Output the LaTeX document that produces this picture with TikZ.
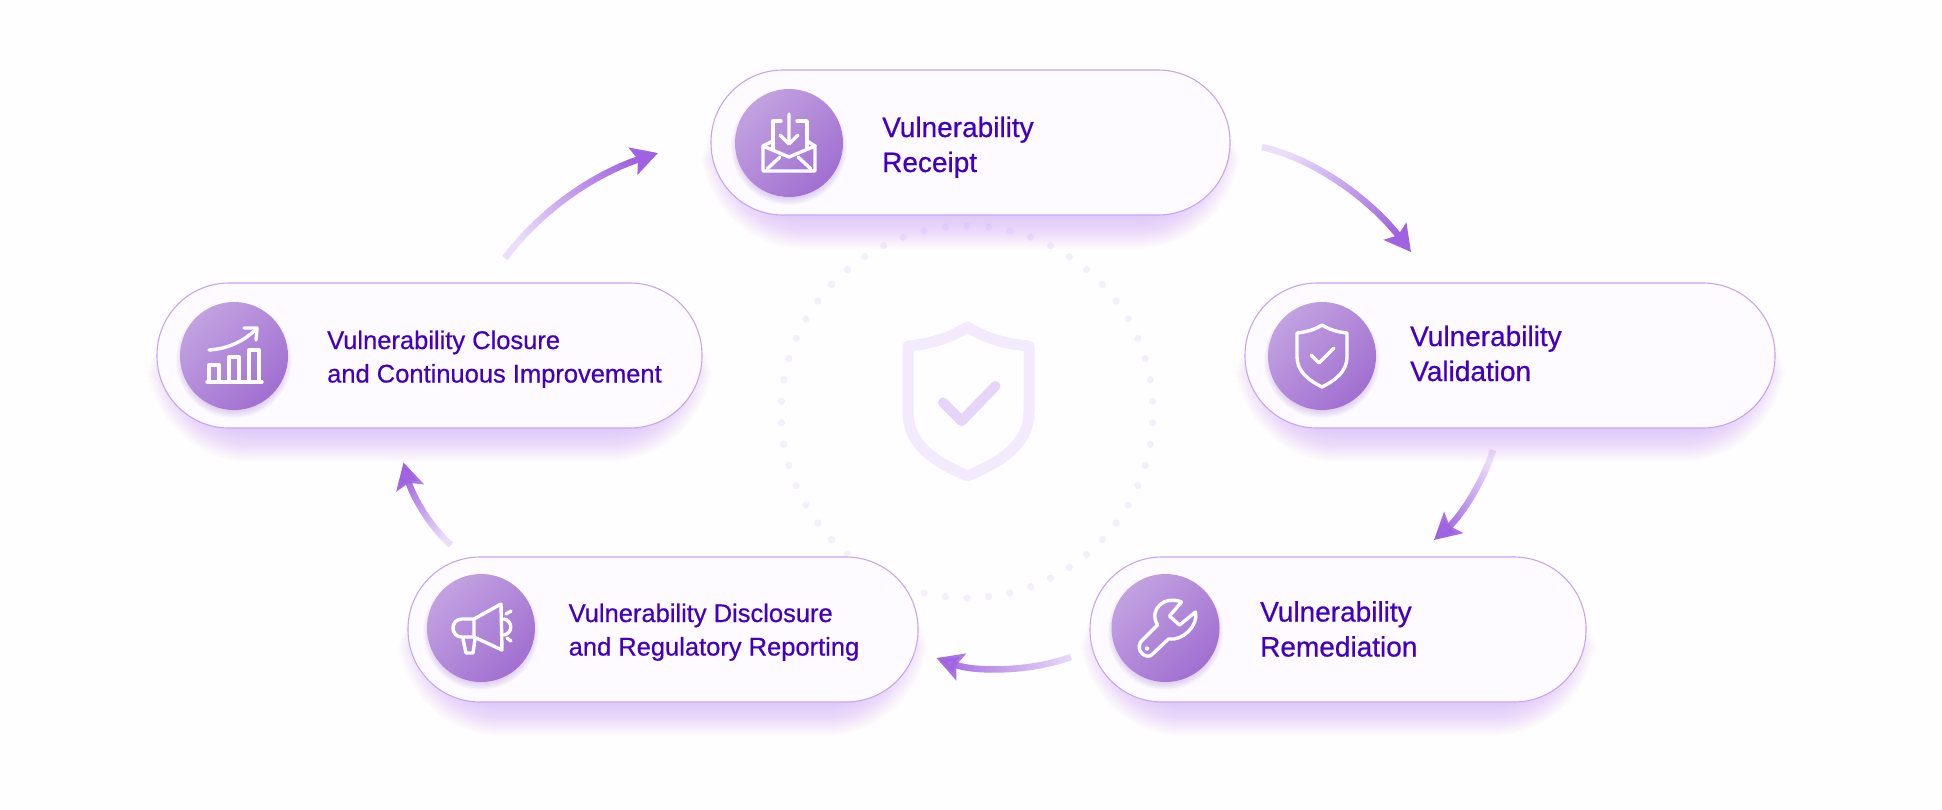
\documentclass[tikz,border=0pt]{standalone}
\usepackage{fontspec}
\setmainfont{Liberation Sans}[FakeBold=0.6]
\usetikzlibrary{arrows.meta,fadings}
\definecolor{paperwhite}{HTML}{FEFDFF}
\definecolor{pillfill}{HTML}{FDFBFF}
\definecolor{pillline}{HTML}{C6A6F0}
\definecolor{glowpurple}{HTML}{B285FA}
\definecolor{balldark}{HTML}{9C68CE}
\definecolor{inkpurple}{HTML}{4300BF}
\definecolor{flowpurple}{HTML}{9F62E0}
\definecolor{dotpale}{HTML}{F5EEFD}
\definecolor{shieldpale}{HTML}{F3EAFD}
\definecolor{checkpale}{HTML}{E6D5F9}
\tikzfading[name=tailfade,left color=transparent!80,middle color=transparent!10,right color=transparent!0]
\tikzset{
  pillbox/.style={draw=pillline,line width=1.1pt,fill=pillfill,rounded corners=72pt,
    minimum height=145pt,inner sep=0pt,outer sep=0pt},
  iconball/.style={circle,minimum size=108pt,inner sep=0pt,shading=axis,
    top color=balldark!62!white,middle color=balldark!85!white,bottom color=balldark!95!white,shading angle=45},
  steplabel/.style={anchor=base west,align=left,inner sep=0pt,text=inkpurple,font=\fontsize{28}{35}\selectfont},
  longlabel/.style={steplabel,font=\fontsize{25.5}{33.5}\selectfont},
  flowarrow/.style={draw=flowpurple,line width=6.5pt,
    -{Stealth[length=26pt,width=28pt,inset=5pt]},path fading=tailfade},
  iconline/.style={draw=white,line width=3.4pt,line cap=round,line join=round}
}
\begin{document}
\begin{tikzpicture}[x=1pt,y=-1pt]
  \useasboundingbox (0,0) rectangle (1942,809);
  \fill[paperwhite] (0,0) rectangle (1942,809);

  % dotted ring and big shield
  \begin{scope}[shift={(967,412)}]
    \foreach \i in {0,...,53}{\fill[dotpale] ({90+\i*20/3}:186) circle (3.6);}
  \end{scope}
  \draw[shieldpale,line width=11pt,line join=round]
    (967.5,327) .. controls (950,338) and (930,344) .. (908,346) -- (908,412)
    .. controls (908,445) and (935,462) .. (967.5,476)
    .. controls (1000,462) and (1029,445) .. (1029,412) -- (1029,346)
    .. controls (1005,344) and (985,338) .. cycle;
  \draw[checkpale,line width=10pt,line cap=round,line join=round]
    (943,402.5) -- (961.5,421) -- (995.5,386);

  % pills, shadows first
  \foreach \pname/\xl/\xr/\yt in {receipt/711/1230/70,closure/157/702/283,validation/1245/1775/283,
      disclosure/408/918/557,remediation/1090/1586/557}{
    \foreach \s in {1,...,32}{
      \fill[glowpurple,opacity=.01,rounded corners=72+\s] (\xl+22-\s,\yt+34-\s) rectangle (\xr-22+\s,\yt+147+\s);}
    \pgfmathsetmacro{\w}{\xr-\xl}
    \node[pillbox,minimum width=\w pt] (\pname) at ({(\xl+\xr)/2},\yt+72.5) {};
  }

  % icon balls
  \foreach \bname/\bx/\by in {receiptball/789/143,closureball/234/356,validationball/1322/356,
      disclosureball/481/628,remediationball/1165.5/628}{
    \foreach \s in {1,...,8}{\fill[balldark,opacity=.04] (\bx,\by+4) circle (50+\s);}
    \node[iconball] (\bname) at (\bx,\by) {};
  }

  \node[steplabel] (receipttext) at (882,172) {Vulnerability\\Receipt};
  \node[longlabel] (closuretext) at (327,382.5) {Vulnerability Closure\\and Continuous Improvement};
  \node[steplabel] (validationtext) at (1410,381) {Vulnerability\\Validation};
  \node[longlabel] (disclosuretext) at (568.5,655.5) {Vulnerability Disclosure\\and Regulatory Reporting};
  \node[steplabel] (remediationtext) at (1260,656.5) {Vulnerability\\Remediation};

  % icons
  \begin{scope}[shift={(receiptball.center)}]
    \draw[iconline] (-16,-2) -- (-26,3) -- (-26,28) -- (26,28) -- (26,3) -- (18,-2);
    \draw[iconline] (-16,6) -- (-16,-22) -- (-8,-22) (8,-22) -- (18,-22) -- (18,6);
    \draw[iconline] (0,-29) -- (0,0) (-9,-8) -- (0,1) -- (9,-8);
    \draw[iconline] (-26,3) -- (0,14) -- (26,3) (-22,26) -- (-9,14) (22,26) -- (9,14);
  \end{scope}
  \begin{scope}[shift={(closureball.center)}]
    \draw[iconline] (-27,26) -- (28,26);
    \draw[iconline] (-25,26) -- (-25,9) -- (-15,9) -- (-15,26);
    \draw[iconline] (-5,26) -- (-5,1) -- (5,1) -- (5,26);
    \draw[iconline] (15,26) -- (15,-6) -- (25,-6) -- (25,26);
    \draw[iconline] (-25,-6) .. controls (-8,-7) and (10,-14) .. (23,-28);
    \draw[iconline] (10,-28) -- (23,-28) -- (22,-16);
  \end{scope}
  \begin{scope}[shift={(validationball.center)}]
    \draw[iconline] (0,-31) .. controls (-8,-26) and (-16,-24) .. (-25,-23) -- (-25,1)
      .. controls (-25,15) and (-14,24) .. (0,31)
      .. controls (14,24) and (25,15) .. (25,1) -- (25,-23)
      .. controls (16,-24) and (8,-26) .. cycle;
    \draw[iconline] (-11,-1) -- (-3,7) -- (12,-8);
  \end{scope}
  \begin{scope}[shift={(disclosureball.center)}]
    \draw[iconline] (-7,-9) -- (20,-24) -- (21,22) -- (-7,9) -- cycle;
    \draw[iconline] (-7,-9) -- (-19,-9) .. controls (-31,-9) and (-31,9) .. (-19,9) -- (-7,9);
    \draw[iconline] (-18,11) -- (-15,25) -- (-8,25) -- (-6,11);
    \draw[iconline] (23,-9) .. controls (32,-7) and (32,5) .. (23,7);
    \draw[iconline] (25,-14) -- (30,-17) (26,10) -- (30,13);
  \end{scope}
  \begin{scope}[shift={(remediationball.center)}]
    \draw[iconline] (16,-26) -- (4,-12) -- (14,-3) -- (30,-16) .. controls (33,-3) and (18,13) .. (3,11)
      -- (-14,27) .. controls (-19,31) and (-30,24) .. (-25,14) -- (-8,-3)
      .. controls (-17,-18) and (-2,-33) .. cycle;
    \fill[white] (-18.5,20.5) circle (2.2);
  \end{scope}

  % flow arrows
  \coordinate (receiptout) at (1262,147);
  \coordinate (validationin) at (1411,252);
  \coordinate (validationout) at (1493,450);
  \coordinate (remediationin) at (1434,540);
  \coordinate (remediationout) at (1071,657);
  \coordinate (disclosurein) at (936.5,658);
  \coordinate (disclosureout) at (451,545);
  \coordinate (closurein) at (403.5,462.5);
  \coordinate (closureout) at (505,258);
  \coordinate (receiptin) at (658,153);
  \draw[flowarrow,fading angle=-35] (receiptout) .. controls (1320,160) and (1375,205) .. (validationin);
  \draw[flowarrow,fading angle=-123] (validationout) .. controls (1484,480) and (1462,515) .. (remediationin);
  \draw[flowarrow,fading angle=180] (remediationout) .. controls (1030,672) and (975,672) .. (disclosurein);
  \draw[flowarrow,fading angle=120] (disclosureout) .. controls (430,527) and (412,495) .. (closurein);
  \draw[flowarrow,fading angle=34] (closureout) .. controls (545,205) and (600,172) .. (receiptin);
\end{tikzpicture}
\end{document}
